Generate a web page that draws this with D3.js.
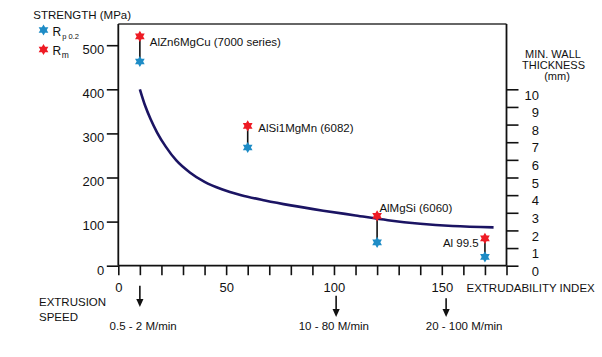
<!DOCTYPE html>
<html><head><meta charset="utf-8">
<script src="https://cdn.jsdelivr.net/npm/d3@7"></script>
<style>
body{margin:0;background:#fff}
svg{display:block;font-family:"Liberation Sans",Arial,Helvetica,sans-serif}
</style>
</head><body>
<svg id="c" width="602" height="357"></svg>
<script>
// ---------------- data ----------------
const alloys = ["AlZn6MgCu (7000 series)", "AlSi1MgMn (6082)", "AlMgSi (6060)", "Al 99.5"];
const extrudability = [10, 60, 120, 170];
const rm = [520, 317, 113, 62];          // tensile strength Rm (MPa)
const rp02 = [463, 268, 53, 20];         // yield strength Rp0.2 (MPa)

const curveIndex = [10, 12.5, 15, 18, 22, 27, 33, 40, 48, 57, 68, 80, 95, 110, 125, 140, 155, 174];
const curveThickness = [10.0, 9.05, 8.3, 7.55, 6.75, 5.95, 5.3, 4.75, 4.33, 4.0, 3.7, 3.42, 3.12, 2.85, 2.58, 2.38, 2.25, 2.17];

const strengthTicks = [0, 100, 200, 300, 400, 500];
const thicknessTicks = [0, 1, 2, 3, 4, 5, 6, 7, 8, 9, 10];
const indexTicks = [0, 10, 20, 30, 40, 50, 60, 70, 80, 90, 100, 110, 120, 130, 140, 150, 160, 170, 180];
const indexTickLabels = [0, 50, 100, 150];

const speedIndex = [10, 101, 152];
const speedLabels = ["0.5 - 2 M/min", "10 - 80 M/min", "20 - 100 M/min"];

// ---------------- layout ----------------
const svg = d3.select("#c");
const x = d3.scaleLinear().domain([0, 180]).range([118.3, 506.5]);
const y = d3.scaleLinear().domain([0, 500]).range([265.7, 45.2]);
const yT = d3.scaleLinear().domain([0, 10]).range([y(0), y(400)]);
const topY = 24;
const red = "#ee1b24", blue = "#1e8cc6", navy = "#1b1463", ink = "#111";

// frame lines
svg.append("line").attr("x1", x(0)).attr("x2", x(180)).attr("y1", topY).attr("y2", topY)
  .attr("stroke", "#333").attr("stroke-width", 1.6);
svg.append("line").attr("x1", x(0)).attr("x2", x(0)).attr("y1", topY).attr("y2", y(0))
  .attr("stroke", ink).attr("stroke-width", 1.8);
svg.append("line").attr("x1", x(180)).attr("x2", x(180)).attr("y1", topY).attr("y2", y(0))
  .attr("stroke", ink).attr("stroke-width", 1.8);
svg.append("line").attr("x1", x(0)).attr("x2", x(180)).attr("y1", y(0)).attr("y2", y(0))
  .attr("stroke", ink).attr("stroke-width", 1.8);

// left axis
const gl = svg.append("g").attr("transform", `translate(${x(0)},0)`)
  .call(d3.axisLeft(y).tickValues(strengthTicks).tickSize(11.5).tickPadding(2.5));
gl.select(".domain").remove();
gl.selectAll(".tick line").attr("stroke", ink).attr("stroke-width", 1.6);
gl.selectAll(".tick text").attr("font-size", 13).attr("fill", ink).attr("dy", "0.64em")
  .attr("font-family", null);

// bottom axis
const gb = svg.append("g").attr("transform", `translate(0,${y(0)})`)
  .call(d3.axisBottom(x).tickValues(indexTicks).tickSize(9.5).tickPadding(7.5)
    .tickFormat(d => indexTickLabels.includes(d) ? d : ""));
gb.select(".domain").remove();
gb.selectAll(".tick line").attr("stroke", ink).attr("stroke-width", 1.6);
gb.selectAll(".tick text").attr("font-size", 13).attr("fill", ink).attr("font-family", null);

// right axis (thickness)
const gr = svg.append("g").attr("transform", `translate(${x(180)},0)`)
  .call(d3.axisRight(yT).tickValues(thicknessTicks).tickSize(12).tickPadding(3));
gr.select(".domain").remove();
gr.selectAll(".tick line").attr("stroke", ink).attr("stroke-width", 1.6);
gr.selectAll(".tick text").attr("font-size", 13).attr("fill", ink).attr("font-family", null)
  .attr("text-anchor", "end").attr("x", 32.5).attr("dy", "0.75em");

// curve (min wall thickness)
const line = d3.line().x((d, i) => x(curveIndex[i])).y(d => yT(d)).curve(d3.curveMonotoneX);
svg.append("path").datum(curveThickness).attr("d", line)
  .attr("fill", "none").attr("stroke", navy).attr("stroke-width", 2.6).attr("stroke-linecap", "butt");

// hexagram star path
function star(R) {
  const r = R * 0.58, pts = [];
  for (let k = 0; k < 12; k++) {
    const a = (-90 + k * 30) * Math.PI / 180, rr = k % 2 ? r : R;
    pts.push([rr * Math.cos(a), rr * Math.sin(a)]);
  }
  return "M" + pts.map(p => p.join(",")).join("L") + "Z";
}
const starPath = star(5.6);

// connectors
svg.selectAll(".conn").data(alloys).enter().append("line")
  .attr("x1", (d, i) => x(extrudability[i])).attr("x2", (d, i) => x(extrudability[i]))
  .attr("y1", (d, i) => y(rm[i])).attr("y2", (d, i) => y(rp02[i]))
  .attr("stroke", ink).attr("stroke-width", 1.6);

// stars
svg.selectAll(".rp").data(alloys).enter().append("path")
  .attr("d", starPath).attr("fill", blue)
  .attr("transform", (d, i) => `translate(${x(extrudability[i])},${y(rp02[i])})`);
svg.selectAll(".rm").data(alloys).enter().append("path")
  .attr("d", starPath).attr("fill", red)
  .attr("transform", (d, i) => `translate(${x(extrudability[i])},${y(rm[i])})`);

// alloy labels
const labelOffset = [[10, 9.8, "start"], [10.6, 6.4, "start"], [2.3, -3.6, "start"], [-6.2, 9, "end"]];
svg.selectAll(".lbl").data(alloys).enter().append("text")
  .attr("x", (d, i) => x(extrudability[i]) + labelOffset[i][0])
  .attr("y", (d, i) => y(rm[i]) + labelOffset[i][1])
  .attr("text-anchor", (d, i) => labelOffset[i][2])
  .attr("font-size", 11.5).attr("fill", ink).text(d => d);

// legend
svg.append("text").attr("x", 33.3).attr("y", 19).attr("font-size", 11.5).attr("fill", ink).text("STRENGTH (MPa)");
svg.append("path").attr("d", starPath).attr("fill", blue).attr("transform", "translate(43.5,30)");
svg.append("path").attr("d", starPath).attr("fill", red).attr("transform", "translate(43.5,49.5)");
const t1 = svg.append("text").attr("x", 52.5).attr("y", 35.5).attr("font-size", 12).attr("fill", ink);
t1.append("tspan").text("R");
t1.append("tspan").attr("font-size", 7.5).attr("dy", 3.5).attr("dx", 1).text("p 0.2");
const t2 = svg.append("text").attr("x", 52.5).attr("y", 54.5).attr("font-size", 12).attr("fill", ink);
t2.append("tspan").text("R");
t2.append("tspan").attr("font-size", 8.5).attr("dy", 3.5).attr("dx", 0.5).text("m");

// right axis title
const rt = svg.append("text").attr("text-anchor", "middle").attr("font-size", 11).attr("fill", ink);
rt.append("tspan").attr("x", 553).attr("y", 57.5).text("MIN. WALL");
rt.append("tspan").attr("x", 553.5).attr("y", 68.6).text("THICKNESS");
rt.append("tspan").attr("x", 557).attr("y", 80).text("(mm)");

// x axis title
svg.append("text").attr("x", 466.5).attr("y", 292.4).attr("font-size", 11.5).attr("fill", ink).text("EXTRUDABILITY INDEX");

// extrusion speed
const es = svg.append("text").attr("font-size", 11.5).attr("fill", ink);
es.append("tspan").attr("x", 39).attr("y", 306.3).text("EXTRUSION");
es.append("tspan").attr("x", 39).attr("y", 320.8).text("SPEED");

const arrowTop = [285.7, 295.7, 298.3];
const arrowTipY = [307, 317, 317];
const speedTextDx = [3.3, -2.3, 18];
speedIndex.forEach((v, i) => {
  const ax = x(v);
  svg.append("line").attr("x1", ax).attr("x2", ax).attr("y1", arrowTop[i]).attr("y2", arrowTipY[i] - 6)
    .attr("stroke", ink).attr("stroke-width", 1.6);
  svg.append("path").attr("d", `M${ax - 3.6},${arrowTipY[i] - 8}L${ax + 3.6},${arrowTipY[i] - 8}L${ax},${arrowTipY[i]}Z`)
    .attr("fill", ink);
  svg.append("text").attr("x", ax + speedTextDx[i]).attr("y", 330.2).attr("text-anchor", "middle")
    .attr("font-size", 11.5).attr("fill", ink).text(speedLabels[i]);
});
</script>
</body></html>
